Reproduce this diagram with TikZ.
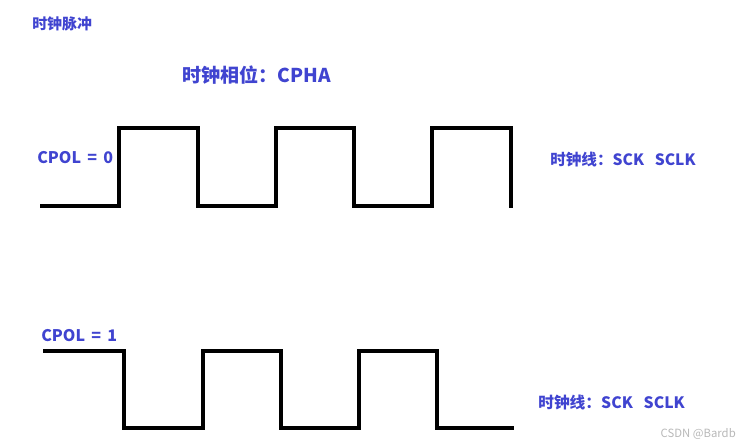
\documentclass[tikz,border=0pt]{standalone}
\usepackage{fontspec}
\newfontfamily\cjk{Noto Sans CJK SC}
\usepackage{tikz}
\definecolor{labelblue}{RGB}{64,68,208}
\tikzset{
  wave/.style={line width=2.3pt, line join=miter},
  lbl/.style={text=labelblue, font=\cjk\bfseries, inner sep=0pt},
}

\begin{document}
\begin{tikzpicture}[x=0.75pt, y=-0.75pt]
\useasboundingbox (0,0) rectangle (742,446);
% titles
\node[lbl, font=\cjk\bfseries\fontsize{11.2}{13}\selectfont, anchor=west] (pulse) at (32,24) {时钟脉冲};
\node[lbl, font=\cjk\bfseries\fontsize{14.3}{16}\selectfont, anchor=west] (cpha) at (182,75) {时钟相位：CPHA};
% CPOL = 0
\node[lbl, font=\cjk\bfseries\fontsize{12}{14}\selectfont, anchor=west] (pol0) at (37,158) {CPOL\,\ =\,\ 0};
\draw[wave] (40,206) -- (119,206) -- (119,128) -- (198,128) -- (198,206) -- (276,206)
  -- (276,128) -- (354,128) -- (354,206) -- (432,206) -- (432,128) -- (511,128) -- (511,208);
\node[lbl, font=\cjk\bfseries\fontsize{11.7}{13}\selectfont, anchor=west] (sck0) at (550,160) {时钟线：SCK\ \ \ SCLK};
% CPOL = 1
\node[lbl, font=\cjk\bfseries\fontsize{12}{14}\selectfont, anchor=west] (pol1) at (41,336) {CPOL\,\ =\,\ 1};
\draw[wave] (43,351) -- (124,351) -- (124,428) -- (203,428) -- (203,351) -- (281,351)
  -- (281,428) -- (359,428) -- (359,351) -- (437,351) -- (437,428) -- (514,428);
\node[lbl, font=\cjk\bfseries\fontsize{11.8}{13}\selectfont, anchor=west] (sck1) at (538,402) {时钟线：SCK\ \ \ SCLK};
% watermark
\node[text=black!28, font=\cjk\fontsize{8.5}{10}\selectfont, anchor=east, inner sep=0pt] (mark) at (736,434) {CSDN @Bardb};
\end{tikzpicture}
\end{document}
